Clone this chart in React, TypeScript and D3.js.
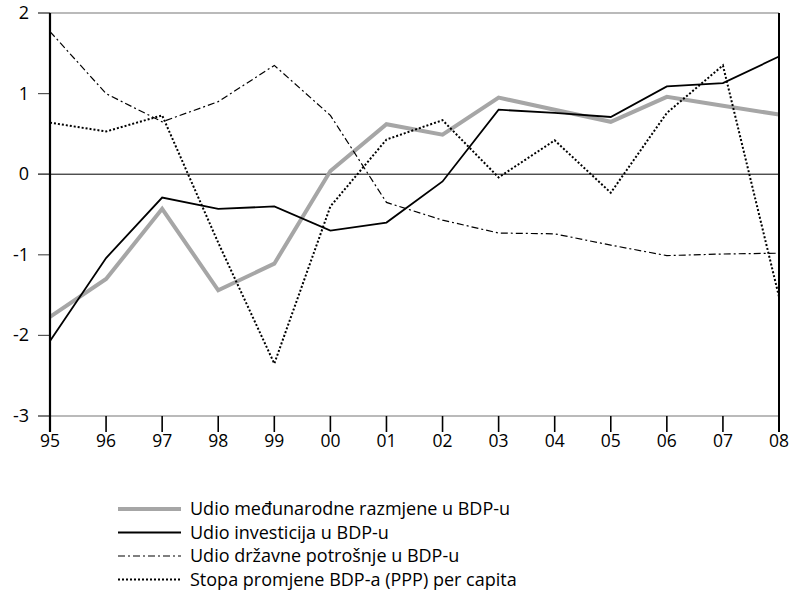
import React from 'react';
import * as d3 from 'd3';

const years = ['95', '96', '97', '98', '99', '00', '01', '02', '03', '04', '05', '06', '07', '08'];
const trade = [-1.77, -1.3, -0.43, -1.44, -1.11, 0.04, 0.62, 0.49, 0.95, 0.8, 0.65, 0.96, 0.85, 0.74];
const investment = [-2.07, -1.04, -0.29, -0.43, -0.4, -0.7, -0.6, -0.09, 0.8, 0.76, 0.71, 1.09, 1.13, 1.46];
const government = [1.77, 1.0, 0.65, 0.9, 1.35, 0.73, -0.35, -0.57, -0.73, -0.74, -0.88, -1.01, -0.99, -0.98];
const gdpGrowth = [0.64, 0.53, 0.73, -0.85, -2.35, -0.4, 0.43, 0.67, -0.04, 0.42, -0.23, 0.76, 1.35, -1.52];
const yTicks = [-3, -2, -1, 0, 1, 2];
const legendLabels = [
  'Udio međunarodne razmjene u BDP-u',
  'Udio investicija u BDP-u',
  'Udio državne potrošnje u BDP-u',
  'Stopa promjene BDP-a (PPP) per capita',
];

const left = 50;
const right = 779;
const top = 13;
const bottom = 416;

const styles = [
  { stroke: '#a6a6a6', width: 4, dash: undefined },
  { stroke: '#000', width: 1.8, dash: undefined },
  { stroke: '#000', width: 1.2, dash: '7 3 2 3' },
  { stroke: '#000', width: 2, dash: '2 2' },
];

export default function App() {
  const x = d3.scalePoint<string>().domain(years).range([left, right]);
  const y = d3.scaleLinear().domain([-3, 2]).range([bottom, top]);
  const line = d3
    .line<number>()
    .x((_, i) => x(years[i]) as number)
    .y((d) => y(d));
  const series = [trade, investment, government, gdpGrowth];
  const font = '"Open Sans", sans-serif';

  return (
    <svg width={792} height={596} style={{ position: 'absolute', left: 0, top: 0, background: '#fff' }}>
      {/* frame */}
      <line x1={38} x2={right} y1={top} y2={top} stroke="#777" strokeWidth={1.2} />
      <line x1={38} x2={right} y1={bottom} y2={bottom} stroke="#777" strokeWidth={1.2} />
      <line x1={38} x2={right} y1={y(0)} y2={y(0)} stroke="#000" strokeWidth={1} />
      {yTicks.map((t) => (
        <g key={t}>
          <line x1={38} x2={left} y1={y(t)} y2={y(t)} stroke="#555" strokeWidth={1.2} />
          <text x={29} y={y(t) + 6} textAnchor="end" fontSize={18} fontFamily={font} fill="#000">
            {t}
          </text>
        </g>
      ))}
      {years.map((yr) => (
        <g key={yr}>
          <line x1={x(yr)} x2={x(yr)} y1={bottom} y2={432} stroke="#000" strokeWidth={1.6} />
          <text x={x(yr)} y={447} textAnchor="middle" fontSize={17.5} fontFamily={font} fill="#000">
            {yr}
          </text>
        </g>
      ))}
      {/* series */}
      {series.map((s, i) => (
        <path
          key={i}
          d={line(s) ?? ''}
          fill="none"
          stroke={styles[i].stroke}
          strokeWidth={styles[i].width}
          strokeDasharray={styles[i].dash}
          strokeLinejoin="miter"
        />
      ))}
      <line x1={left} x2={left} y1={top} y2={432} stroke="#000" strokeWidth={2.2} />
      <line x1={right} x2={right} y1={top} y2={432} stroke="#000" strokeWidth={2} />
      {/* legend */}
      {legendLabels.map((lbl, i) => {
        const ly = 509 + i * 23.5;
        return (
          <g key={lbl}>
            <line
              x1={118}
              x2={181}
              y1={ly}
              y2={ly}
              stroke={styles[i].stroke}
              strokeWidth={styles[i].width}
              strokeDasharray={styles[i].dash}
            />
            <text x={190} y={ly + 6} fontSize={18} fontFamily={font} fill="#000">
              {lbl}
            </text>
          </g>
        );
      })}
    </svg>
  );
}
